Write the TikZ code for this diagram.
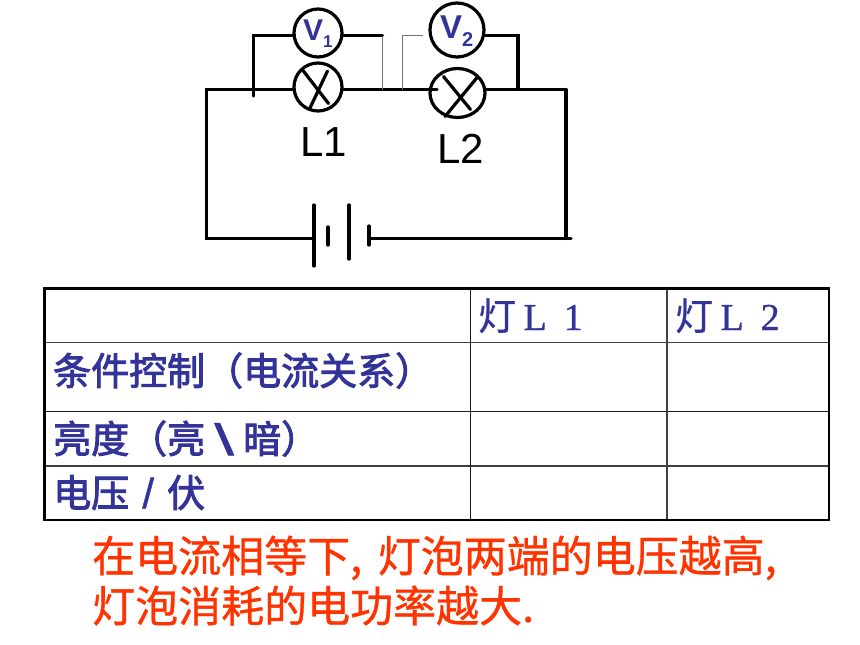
\documentclass[tikz,border=0pt]{standalone}
\usepackage{fontspec}
\setmainfont{Liberation Sans}
\newfontfamily\cjk{Noto Sans CJK SC}
\newfontfamily\cjkfat[FakeBold=2.4]{Noto Sans CJK SC}
\newfontfamily\cjkmid[FakeBold=0.8]{Noto Sans CJK SC}
\newfontfamily\latinserif[FakeBold=0.8]{Liberation Serif}
\newfontfamily\latinsans[FakeBold=1]{Liberation Sans}
\usetikzlibrary{shapes.geometric}
\definecolor{tabblue}{HTML}{333399}
\definecolor{notered}{HTML}{FF3300}
\newcommand{\px}[1]{\fontsize{#1}{#1}\selectfont}
\newcommand{\cellch}[1]{\makebox[38pt]{\latinserif #1}}

\begin{document}
\begin{tikzpicture}[x=1pt,y=-1pt,
	wire/.style={line width=3.2pt,line cap=round},
	thinwire/.style={line width=1.2pt,draw=black!55},
	meter/.style={circle,draw,line width=3.2pt,inner sep=0pt},
	lamp/.style={ellipse,draw,line width=3.2pt,inner sep=0pt},
	vlabel/.style={anchor=base west,inner sep=0pt,text=tabblue},
	lampname/.style={anchor=base,inner sep=0pt,font=\px{42}},
	headtext/.style={anchor=base west,inner sep=0pt,text=tabblue,font=\cjkmid\px{38}},
	rowlabel/.style={anchor=base west,inner sep=0pt,text=tabblue,font=\cjkfat\px{38}},
	notetext/.style={anchor=base west,inner sep=0pt,text=notered,font=\cjkmid\px{43}}]
	\useasboundingbox (0,0) rectangle (860,645);

	% Meters and lamps
	\node[lamp,minimum width=48pt,minimum height=48pt] (L1) at (318,87) {};
	\node[lamp,minimum width=55pt,minimum height=49pt] (L2) at (457.5,93) {};
	\node[meter,minimum size=48pt] (V1) at (318,33) {};
	\node[meter,minimum size=54pt] (V2) at (457,30) {};
	\node[vlabel,font=\bfseries\px{30}] (V1text) at (303,40) {V\raisebox{-7pt}{\px{17}1}};
	\node[vlabel,font=\bfseries\px{33}] (V2text) at (440,38) {V\raisebox{-8pt}{\px{20}2}};
	\node[lampname] (L1name) at (324,156) {L1};
	\node[lampname] (L2name) at (461,163) {L2};

	% Corners and junctions of the circuit
	\coordinate (topleft) at (206.5,89.5);
	\coordinate (topright) at (566,89.5);
	\coordinate (botleft) at (206.5,238.5);
	\coordinate (botright) at (571,238.5);
	\coordinate (rightfoot) at (566,238.5);
	\coordinate (branchA) at (253.5,35.5);
	\coordinate (branchAfoot) at (253.5,96);
	\coordinate (midA) at (382.5,35.5);
	\coordinate (midAfoot) at (382.5,89.5);
	\coordinate (midB) at (402.5,35.5);
	\coordinate (midBfoot) at (402.5,89.5);
	\coordinate (midBend) at (423,35.5);
	\coordinate (branchB) at (518,35.5);
	\coordinate (branchBfoot) at (518,89.5);
	\coordinate (lamptwoin) at (437,89.5);

	% Battery
	\coordinate (cellAtop) at (314,205);
	\coordinate (cellAmid) at (314,238.5);
	\coordinate (cellAbot) at (314,266);
	\coordinate (cellBtop) at (328,227);
	\coordinate (cellBbot) at (328,245);
	\coordinate (cellCtop) at (349,205);
	\coordinate (cellCbot) at (349,259);
	\coordinate (cellDtop) at (369,226);
	\coordinate (cellDmid) at (369,238.5);
	\coordinate (cellDbot) at (369,245);
	\draw[wire] (cellAtop) -- (cellAbot);
	\draw[wire] (cellBtop) -- (cellBbot);
	\draw[wire] (cellCtop) -- (cellCbot);
	\draw[wire] (cellDtop) -- (cellDbot);

	% Draw wires
	\draw[wire] (L1.west |- topleft) -- (topleft) -- (botleft) -- (cellAmid);
	\draw[wire] (cellDmid) -- (botright);
	\draw[wire] (topright) -- (rightfoot);
	\draw[wire] (L2.east |- topright) -- (topright);
	\draw[wire] (L1.east |- topleft) -- (lamptwoin);
	\draw[wire] (V1.west |- branchA) -- (branchA) -- (branchAfoot);
	\draw[wire] (V1.east |- midA) -- (midA);
	\draw[wire] (V2.east |- branchB) -- (branchB) -- (branchBfoot);
	\draw[thinwire] (midA) -- (midAfoot);
	\draw[thinwire] (midBfoot) -- (midB) -- (midBend);

	% Lamp crosses
	\draw[wire] ([shift={(-15,-16.5)}]L1.center) -- ([shift={(10.5,16.5)}]L1.center);
	\draw[wire] ([shift={(9.5,-16)}]L1.center) -- ([shift={(-8,21)}]L1.center);
	\draw[wire] ([shift={(-14,-16.5)}]L2.center) -- ([shift={(13,16.5)}]L2.center);
	\draw[wire] ([shift={(20,-16)}]L2.center) -- ([shift={(-12.5,23.5)}]L2.center);

	% Table
	\coordinate (tabNW) at (44.5,288.5);
	\coordinate (tabSE) at (829,520);
	\draw[line width=1.3pt,draw=black!75] (44.5,342.5) -- (829,342.5);
	\draw[line width=1.3pt,draw=black!90] (44.5,411.5) -- (829,411.5);
	\draw[line width=1.3pt,draw=black!75] (44.5,466) -- (829,466);
	\draw[line width=1.3pt,draw=black!90] (470.5,288.5) -- (470.5,520);
	\draw[line width=1.3pt,draw=black!75] (667,288.5) -- (667,520);
	\draw[line width=2.6pt] (tabNW) rectangle (tabSE);

	% Table text
	\node[headtext] (lampA) at (478,330) {灯\cellch{L}\cellch{1}};
	\node[headtext] (lampB) at (675,330) {灯\cellch{L}\cellch{2}};
	\node[rowlabel] (cond) at (53,385) {条件控制（电流关系）};
	\node[rowlabel] (bright) at (53,453) {亮度（亮\makebox[38pt]{\raisebox{-2pt}{\scalebox{1.6}[1]{\latinsans\px{44}\textbackslash}}}暗）};
	\node[rowlabel] (volt) at (53,507) {电压\makebox[38pt]{\raisebox{-1pt}{\latinsans\px{42}/}}伏};

	% Note under the table
	\node[notetext] (noteA) at (92,572) {在电流相等下,\hspace{6pt} 灯泡两端的电压越高,};
	\node[notetext] (noteB) at (92,622) {灯泡消耗的电功率越大.};
\end{tikzpicture}
\end{document}
